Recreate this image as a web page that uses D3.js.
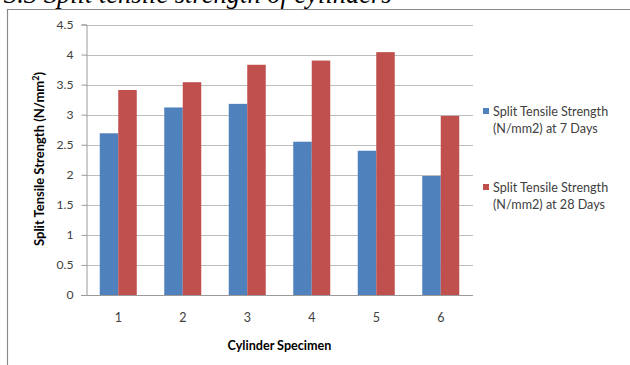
<!DOCTYPE html>
<html>
<head>
<meta charset="utf-8">
<script src="https://cdn.jsdelivr.net/npm/d3@7"></script>
<style>
  body { margin: 0; background: #fff; }
  svg { display: block; }
</style>
</head>
<body>
<div id="chart"></div>
<script>
// data
var specimens = ["1", "2", "3", "4", "5", "6"];
var days7 = [2.69, 3.12, 3.18, 2.55, 2.40, 1.98];
var days28 = [3.41, 3.54, 3.83, 3.90, 4.04, 2.98];
var seriesNames = ["Split Tensile Strength (N/mm2) at 7 Days", "Split Tensile Strength (N/mm2) at 28 Days"];
var yTicks = [0, 0.5, 1, 1.5, 2, 2.5, 3, 3.5, 4, 4.5];

var colors = ["#4f81bd", "#c0504d"];
var font = "Lato, 'Open Sans', sans-serif";

var W = 630, H = 365;
var plot = { left: 86, right: 473, top: 24.5, bottom: 295 };

var svg = d3.select("#chart").append("svg")
    .attr("width", W)
    .attr("height", H);

// heading of the page, cut at the top like in the scan
svg.append("text")
    .attr("x", 4)
    .attr("y", 3)
    .attr("font-family", "'Liberation Serif', 'Times New Roman', serif")
    .attr("font-style", "italic")
    .attr("font-size", 26.5)
    .attr("fill", "#000")
    .text("3.3 Split tensile strength of cylinders");

// chart border (top and left only visible)
svg.append("path")
    .attr("d", "M7.5," + H + "V9.5H" + W)
    .attr("fill", "none")
    .attr("stroke", "#8a8a8a")
    .attr("stroke-width", 1.2);

var x = d3.scaleBand().domain(specimens).range([plot.left, plot.right]);
var x1 = d3.scaleBand().domain([0, 1]).range([0, 37]);
var y = d3.scaleLinear().domain([0, 4.5]).range([plot.bottom, plot.top]);

// gridlines
svg.append("g")
    .selectAll("line")
    .data(yTicks.filter(function (d) { return d > 0; }))
    .enter().append("line")
    .attr("x1", plot.left)
    .attr("x2", plot.right)
    .attr("y1", function (d) { return Math.round(y(d)) + 0.5; })
    .attr("y2", function (d) { return Math.round(y(d)) + 0.5; })
    .attr("stroke", "#bdbdbd");

// bars
var groups = svg.append("g")
    .selectAll("g")
    .data(specimens)
    .enter().append("g")
    .attr("transform", function (d) { return "translate(" + (x(d) + (x.bandwidth() - 37) / 2) + ",0)"; });

groups.selectAll("rect")
    .data(function (d, i) { return [days7[i], days28[i]]; })
    .enter().append("rect")
    .attr("x", function (d, j) { return x1(j); })
    .attr("width", x1.bandwidth())
    .attr("y", function (d) { return y(d); })
    .attr("height", function (d) { return y(0) - y(d); })
    .attr("fill", function (d, j) { return colors[j]; });

// y axis
var yAxis = svg.append("g")
    .attr("transform", "translate(" + (plot.left + 0.5) + ",0)")
    .call(d3.axisLeft(y).tickValues(yTicks).tickSize(5).tickPadding(8)
        .tickFormat(function (d) { return d; }));
yAxis.select(".domain").attr("stroke", "#9a9a9a");
yAxis.selectAll(".tick line").attr("stroke", "#9a9a9a");
yAxis.selectAll("text")
    .attr("font-family", font)
    .attr("font-size", 12.2)
    .attr("fill", "#404040");

// x axis
var xAxis = svg.append("g")
    .attr("transform", "translate(0," + (plot.bottom + 0.5) + ")")
    .call(d3.axisBottom(x).tickSize(0).tickPadding(18));
xAxis.select(".domain").attr("stroke", "#9a9a9a")
    .attr("d", "M" + (plot.left - 5) + ",0H" + plot.right);
xAxis.selectAll("text")
    .attr("font-family", font)
    .attr("font-size", 12.5)
    .attr("fill", "#404040");

// axis titles
svg.append("text")
    .attr("x", (plot.left + plot.right) / 2)
    .attr("y", 350)
    .attr("text-anchor", "middle")
    .attr("font-family", font)
    .attr("font-weight", "bold")
    .attr("font-size", 12.6)
    .attr("fill", "#000")
    .text("Cylinder Specimen");

var yt = svg.append("text")
    .attr("transform", "translate(44,159) rotate(-90)")
    .attr("text-anchor", "middle")
    .attr("font-family", font)
    .attr("font-weight", "bold")
    .attr("font-size", 13)
    .attr("fill", "#000");
yt.append("tspan").text("Split Tensile Strength (N/mm");
yt.append("tspan").attr("dy", -5).attr("font-size", 9).text("2");
yt.append("tspan").attr("dy", 5).text(")");

// legend
var legendY = [108, 184];
seriesNames.forEach(function (name, i) {
    var g = svg.append("g").attr("transform", "translate(483," + legendY[i] + ")");
    g.append("rect")
        .attr("width", 6)
        .attr("height", 6)
        .attr("fill", colors[i]);
    var parts = name.split(" (");
    g.append("text")
        .attr("x", 10)
        .attr("y", 8)
        .attr("font-family", font)
        .attr("font-size", 12.6)
        .attr("fill", "#404040")
        .text(parts[0]);
    g.append("text")
        .attr("x", 10)
        .attr("y", 25)
        .attr("font-family", font)
        .attr("font-size", 12.6)
        .attr("fill", "#404040")
        .text("(" + parts[1]);
});
</script>
</body>
</html>
